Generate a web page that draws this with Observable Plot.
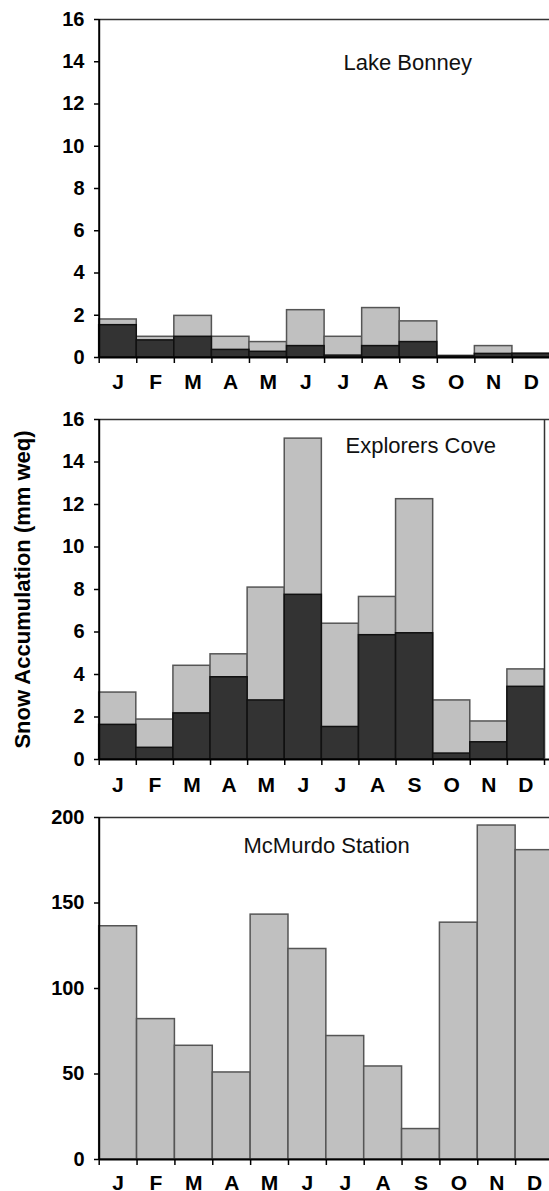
<!DOCTYPE html>
<html><head><meta charset="utf-8">
<script src="https://cdn.jsdelivr.net/npm/d3@7"></script>
<script src="https://cdn.jsdelivr.net/npm/@observablehq/plot@0.6"></script>
<style>
body{margin:0;background:#fff;}
#wrap{position:relative;width:549px;height:1191px;overflow:hidden;background:#fff;}
#wrap svg{position:absolute;left:0;}
</style></head><body><div id="wrap"></div>
<script>
const months = ["J","F","M","A","M","J","J","A","S","O","N","D"];
const bonneyTotal = [1.80, 0.98, 1.97, 0.98, 0.73, 2.24, 0.98, 2.34, 1.71, 0.08, 0.54, 0.18];
const bonneyDark  = [1.53, 0.81, 0.98, 0.36, 0.27, 0.54, 0.09, 0.54, 0.73, 0.05, 0.17, 0.17];
const coveTotal = [3.15, 1.88, 4.41, 4.95, 8.09, 15.1, 6.39, 7.65, 12.25, 2.78, 1.79, 4.24];
const coveDark  = [1.63, 0.55, 2.17, 3.87, 2.78, 7.75, 1.53, 5.85, 5.94, 0.28, 0.81, 3.42];
const mcmurdo = [136.4, 82.1, 66.5, 50.9, 143.2, 123.1, 72.2, 54.4, 17.8, 138.5, 195.3, 180.9];
const yTicksCove = [0, 2, 4, 6, 8, 10, 12, 14, 16];
const yTicksMcMurdo = [0, 50, 100, 150, 200];
const panelTitles = ["Lake Bonney", "Explorers Cove", "McMurdo Station"];
const yLabel = "Snow Accumulation (mm weq)";

const FONT = "'Liberation Sans', Arial, Helvetica, sans-serif";

function panel(o) {
  const rows = months.map((m, i) => ({i, m, total: o.total[i], dark: o.dark ? o.dark[i] : null}));
  const marks = [
    Plot.rectY(rows, {x1: "i", x2: d => d.i + 1, y1: 0, y2: "total", fill: "#c0c0c0", stroke: "#555", strokeWidth: 1.5}),
  ];
  if (o.dark) {
    marks.push(Plot.rectY(rows, {x1: "i", x2: d => d.i + 1, y1: 0, y2: "dark", fill: "#333", stroke: "#111", strokeWidth: 1.5}));
  }
  marks.push(
    Plot.ruleY([o.yDomain[1]], {stroke: "#333", strokeWidth: 1.5}),
    Plot.ruleX([0], {stroke: "#000", strokeWidth: 2}),
    Plot.ruleY([0], {stroke: "#000", strokeWidth: 2}),
    Plot.axisY(o.yTicks, {tickSize: 5, tickPadding: 10, fontSize: 20, fontWeight: "bold", label: null, stroke: "#000", strokeWidth: 1.5, fill: "#000"}),
    Plot.axisX(d3.range(13), {tickSize: 6, tickFormat: () => "", label: null, stroke: "#000", strokeWidth: 1.5}),
    Plot.axisX(d3.range(12).map(i => i + 0.5), {tickSize: 0, tickPadding: o.labelPad, tickFormat: d => months[Math.floor(d)], fontSize: 21, fontWeight: "bold", label: null, fill: "#000"}),
    Plot.text([o.title], {frameAnchor: "top-left", dx: o.titleDx, dy: o.titleDy, textAnchor: "start", lineAnchor: "bottom", fontSize: 22, fill: "#111"})
  );
  if (o.rightBorder) marks.push(Plot.ruleX([12], {stroke: "#333", strokeWidth: 1.5}));
  if (o.ylabel) marks.push(Plot.text([o.ylabel], {frameAnchor: "left", rotate: -90, dx: -77, textAnchor: "middle", lineAnchor: "middle", fontSize: 22, fontWeight: "bold", fill: "#000"}));
  const svg = Plot.plot({
    width: 549, height: o.height,
    marginTop: o.marginTop, marginBottom: o.marginBottom, marginLeft: 99, marginRight: 0,
    x: {domain: [0, 12], range: o.xRange, axis: null},
    y: {domain: o.yDomain, axis: null},
    style: {fontFamily: FONT, background: "transparent", overflow: "hidden"},
    marks
  });
  svg.style.top = o.top + "px";
  return svg;
}

const wrap = document.getElementById("wrap");
wrap.appendChild(panel({top: 0, height: 400, marginTop: 19, marginBottom: 43, xRange: [98.7, 549.5],
  yDomain: [0, 16], yTicks: yTicksCove, total: bonneyTotal, dark: bonneyDark, title: panelTitles[0],
  titleDx: 244, titleDy: 50, labelPad: 17, rightBorder: false}));
wrap.appendChild(panel({top: 400, height: 395, marginTop: 19, marginBottom: 36, xRange: [98.7, 544],
  yDomain: [0, 16], yTicks: yTicksCove, total: coveTotal, dark: coveDark, title: panelTitles[1],
  titleDx: 246, titleDy: 33, labelPad: 18, rightBorder: true, ylabel: yLabel}));
wrap.appendChild(panel({top: 795, height: 396, marginTop: 22, marginBottom: 32, xRange: [98.7, 553],
  yDomain: [0, 200], yTicks: yTicksMcMurdo, total: mcmurdo, dark: null, title: panelTitles[2],
  titleDx: 144, titleDy: 35, labelPad: 16, rightBorder: false}));
</script></body></html>
